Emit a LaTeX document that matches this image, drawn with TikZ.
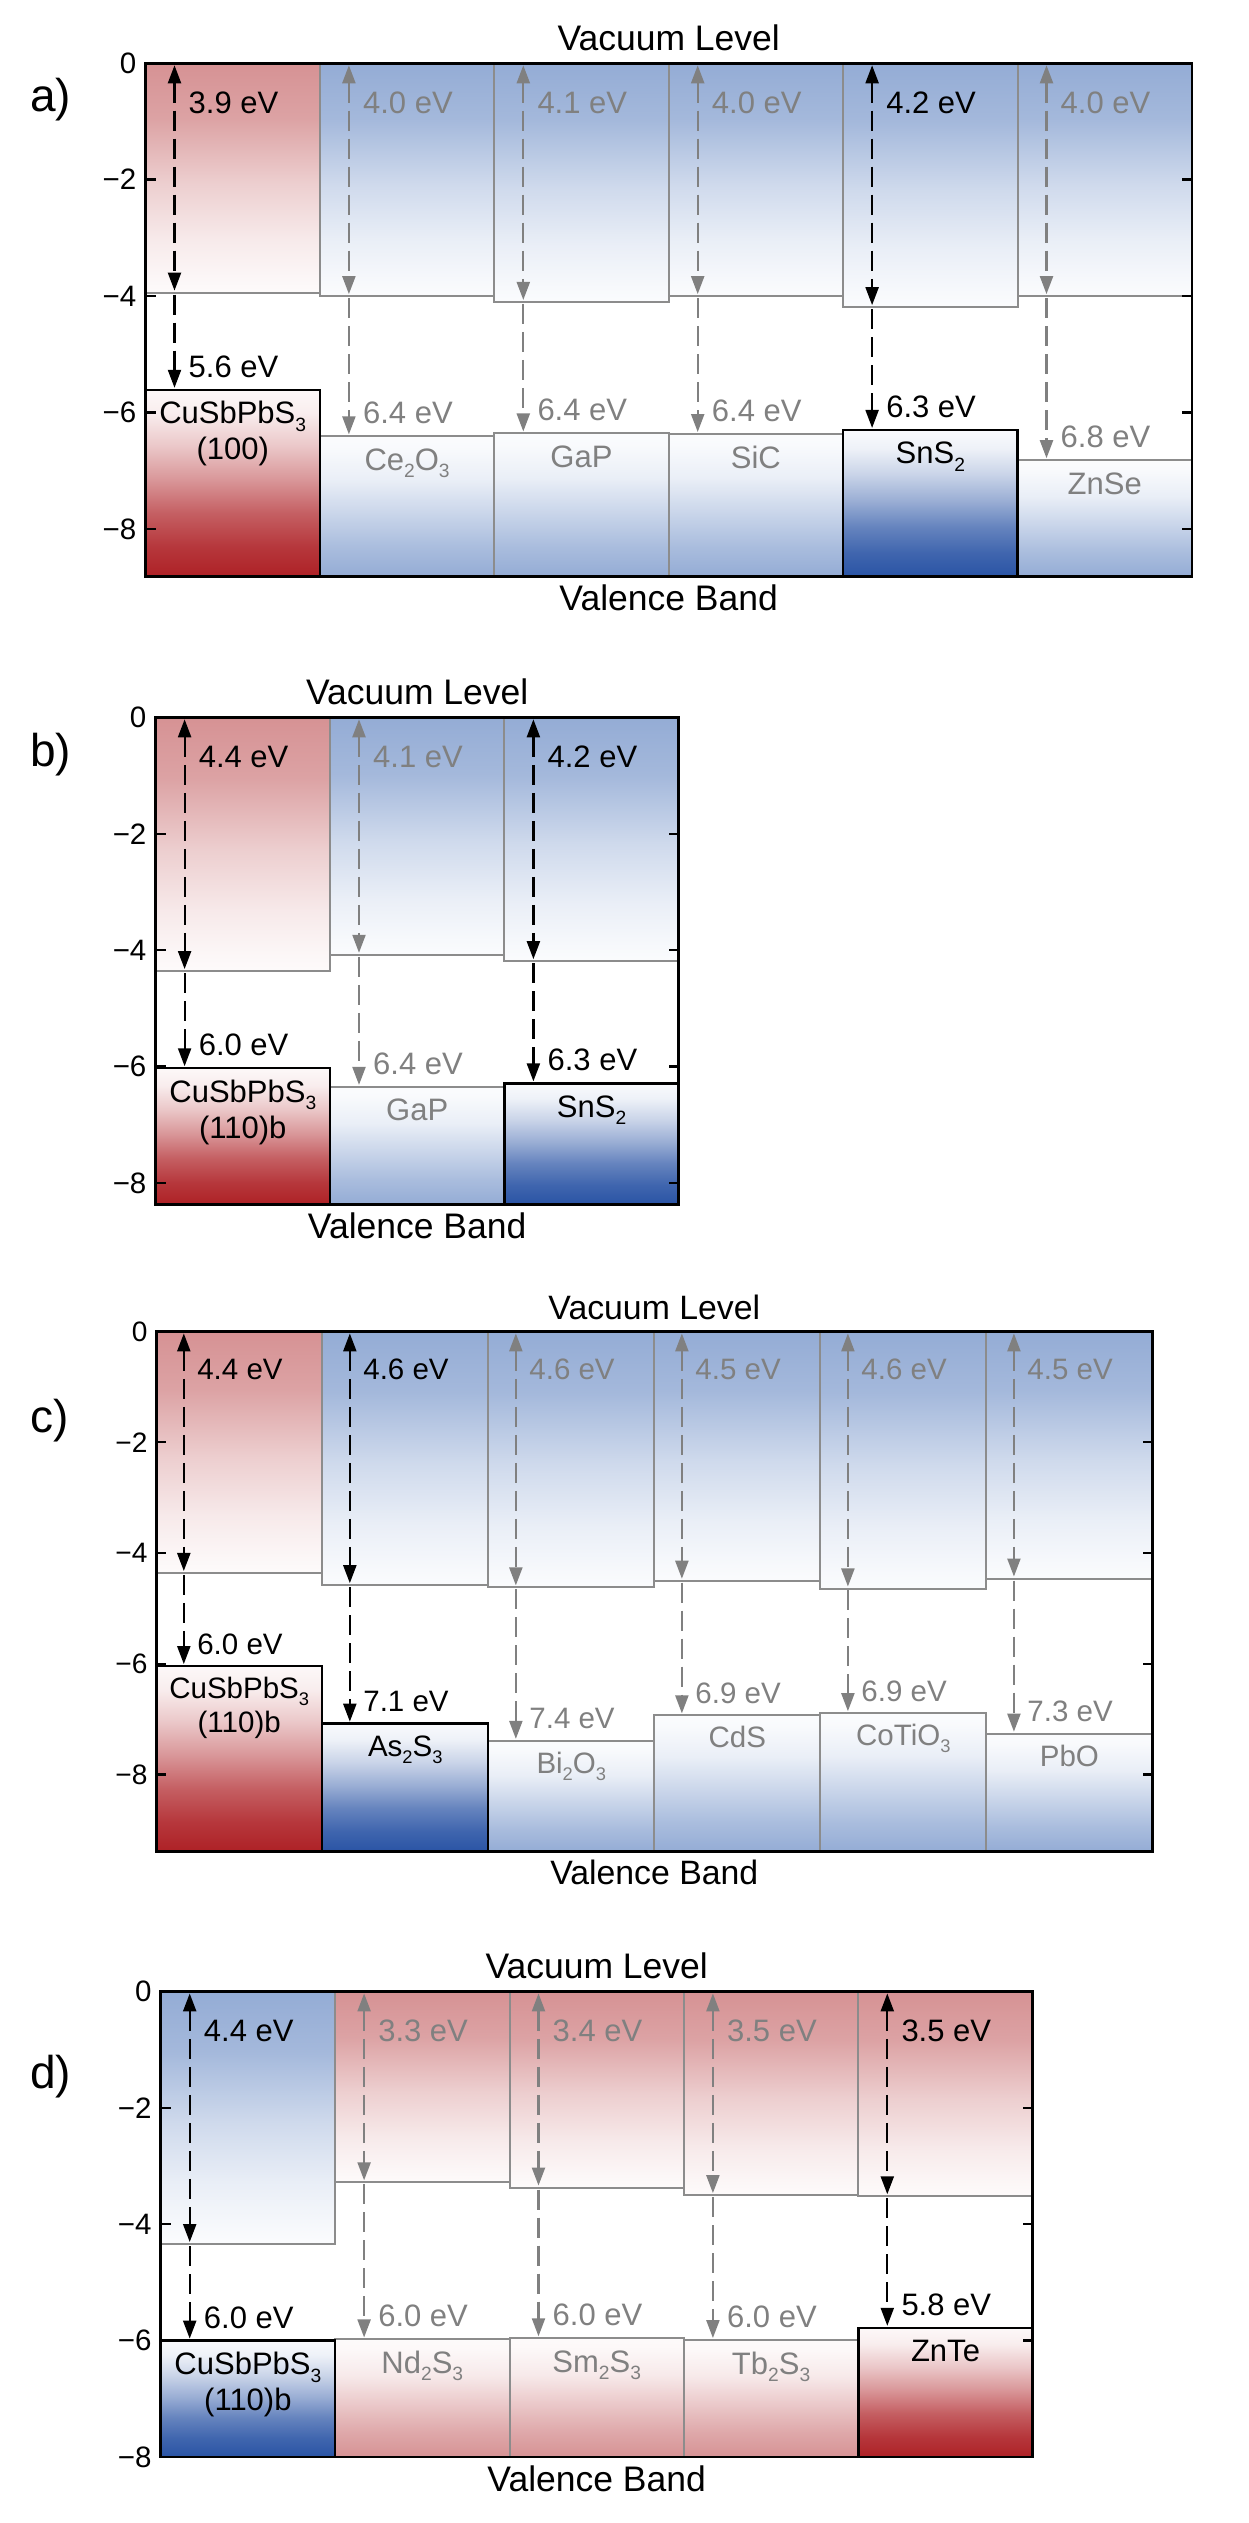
\documentclass[tikz,border=0pt]{standalone}
\usepackage{fontspec}
\setmainfont{Liberation Sans}
\usetikzlibrary{arrows.meta}
\definecolor{redL}{RGB}{214,146,148}
\definecolor{redD}{RGB}{174,33,38}
\definecolor{blueL}{RGB}{148,172,213}
\definecolor{blueD}{RGB}{42,84,165}
\definecolor{tgray}{RGB}{128,128,128}
\definecolor{bgray}{RGB}{140,140,140}

\pgfdeclareverticalshading{cbred}{100bp}{color(0bp)=(redL!4); color(25bp)=(redL!4); color(28.5bp)=(redL!8); color(37bp)=(redL!20); color(49bp)=(redL!45); color(63bp)=(redL!85); color(75bp)=(redL); color(100bp)=(redL)}
\pgfdeclareverticalshading{cbblue}{100bp}{color(0bp)=(blueL!4); color(25bp)=(blueL!4); color(28.5bp)=(blueL!8); color(37bp)=(blueL!20); color(49bp)=(blueL!45); color(63bp)=(blueL!85); color(75bp)=(blueL); color(100bp)=(blueL)}
\pgfdeclareverticalshading{vbredD}{100bp}{color(0bp)=(redD); color(25bp)=(redD); color(33bp)=(redD!90); color(42bp)=(redD!72); color(51bp)=(redD!47); color(60bp)=(redD!25); color(68.75bp)=(redD!8); color(75bp)=(redD!3); color(100bp)=(redD!3)}
\pgfdeclareverticalshading{vbblueD}{100bp}{color(0bp)=(blueD); color(25bp)=(blueD); color(33bp)=(blueD!90); color(42bp)=(blueD!72); color(51bp)=(blueD!47); color(60bp)=(blueD!25); color(68.75bp)=(blueD!8); color(75bp)=(blueD!3); color(100bp)=(blueD!3)}
\pgfdeclareverticalshading{vbblueL}{100bp}{color(0bp)=(blueL); color(25bp)=(blueL); color(35.5bp)=(blueL!80); color(47.5bp)=(blueL!50); color(59.5bp)=(blueL!20); color(71bp)=(blueL!6); color(75bp)=(blueL!4); color(100bp)=(blueL!4)}
\pgfdeclareverticalshading{vbredL}{100bp}{color(0bp)=(redL); color(25bp)=(redL); color(35.5bp)=(redL!80); color(47.5bp)=(redL!50); color(59.5bp)=(redL!20); color(71bp)=(redL!6); color(75bp)=(redL!4); color(100bp)=(redL!4)}

\newcommand\mysub[1]{\raisebox{-0.24em}{\scalebox{0.62}{#1}}}

\tikzset{
  boxline/.style={draw=bgray, line width=2pt},
  hlbox/.style={draw=black, line width=2.4pt},
  framebox/.style={draw=black, line width=2.8pt},
  tickline/.style={draw=black, line width=2.4pt},
  darr/.style={line width=2.2pt, dash pattern=on 20pt off 8pt, shorten <=2pt, shorten >=2pt},
  lab/.style={inner sep=0pt, font=\fontsize{31}{37}\selectfont},
  ticklab/.style={inner sep=0pt, font=\fontsize{29.5}{35}\selectfont},
  ttl/.style={inner sep=0pt, font=\fontsize{35.5}{42}\selectfont},
  plab/.style={inner sep=0pt, font=\fontsize{46}{54}\selectfont},
}

\newcommand\bandpanel[4]{%
  \pgfmathsetmacro\bpW{174.4}%
  \pgfmathsetmacro\bpS{58.2}%
  \pgfmathsetmacro\bpFR{#2*\bpW}%
  \pgfmathsetmacro\bpFB{#3*\bpS}%
  % boxes
  \foreach \i/\cb/\vb/\lc/\lv/\csh/\vsh/\hl/\na/\nb in {#4}{%
    \pgfmathsetmacro\xl{\i*\bpW}%
    \pgfmathsetmacro\xr{\xl+\bpW}%
    \pgfmathsetmacro\ycb{\cb*\bpS}%
    \pgfmathsetmacro\yvb{\vb*\bpS}%
    \shade[shading=\csh] (\xl,0) rectangle (\xr,\ycb);
    \draw[boxline] (\xl,0) rectangle (\xr,\ycb);
    \shade[shading=\vsh] (\xl,\yvb) rectangle (\xr,\bpFB);
    \draw[boxline] (\xl,\yvb) rectangle (\xr,\bpFB);
  }
  % highlighted borders
  \foreach \i/\cb/\vb/\lc/\lv/\csh/\vsh/\hl/\na/\nb in {#4}{%
    \pgfmathsetmacro\xl{\i*\bpW}%
    \pgfmathsetmacro\xr{\xl+\bpW}%
    \pgfmathsetmacro\yvb{\vb*\bpS}%
    \ifnum\hl=1
      \draw[hlbox] (\xl,\yvb) rectangle (\xr,\bpFB);
    \fi
  }
  % frame and ticks
  \draw[framebox] (0,0) rectangle (\bpFR,\bpFB);
  \foreach \tk in {0,2,4,6,8}{%
    \draw[tickline] (0,\tk*\bpS) -- (10,\tk*\bpS);
    \draw[tickline] (\bpFR,\tk*\bpS) -- (\bpFR-10,\tk*\bpS);
    \node (#1-k\tk) [ticklab, anchor=east] at (-9,\tk*\bpS) {\ifnum\tk=0 0\else −\tk\fi};
  }
  \node (#1-vac) [ttl, anchor=base] at (\bpFR/2,-12.5) {Vacuum Level};
  \node (#1-val) [ttl, anchor=base] at (\bpFR/2,\bpFB+34) {Valence Band};
  % arrows and labels
  \foreach \i/\cb/\vb/\lc/\lv/\csh/\vsh/\hl/\na/\nb in {#4}{%
    \pgfmathsetmacro\xl{\i*\bpW}%
    \pgfmathsetmacro\xa{\xl+29}%
    \pgfmathsetmacro\xc{\xl+\bpW/2}%
    \pgfmathsetmacro\ycb{\cb*\bpS}%
    \pgfmathsetmacro\yvb{\vb*\bpS}%
    \ifnum\hl=1 \def\tc{black}\else\def\tc{tgray}\fi
    \coordinate (#1-t\i) at (\xa,0);
    \coordinate (#1-c\i) at (\xa,\ycb);
    \coordinate (#1-v\i) at (\xa,\yvb);
    \draw[darr, draw=\tc, <->] (#1-t\i) -- (#1-c\i);
    \draw[darr, draw=\tc, ->] (#1-c\i) -- (#1-v\i);
    \node (#1-lc\i) [lab, anchor=base west, text=\tc] at (\xl+43,50) {\lc\ eV};
    \node (#1-lv\i) [lab, anchor=base west, text=\tc] at (\xl+43,\yvb-12.5) {\lv\ eV};
    \node (#1-na\i) [lab, anchor=base, text=\tc] at (\xc,\yvb+34) {\na};
    \node (#1-nb\i) [lab, anchor=base, text=\tc] at (\xc,\yvb+70) {\nb};
  }
}

\begin{document}
\begin{tikzpicture}[x=1pt,y=-1pt,>={Triangle[length=18pt,width=13pt]}]
\fill[white] (0,0) rectangle (1248,2523);
\useasboundingbox (0,0) rectangle (1248,2523);

\begin{scope}[shift={(145.5,63.3)}]
\bandpanel{pa}{6}{8.82}{0/3.94/5.61/3.9/5.6/cbred/vbredD/1/{CuSbPbS\mysub{3}}/{(100)},
1/4.00/6.41/4.0/6.4/cbblue/vbblueL/0/{Ce\mysub{2}O\mysub{3}}/{},
2/4.10/6.36/4.1/6.4/cbblue/vbblueL/0/{GaP}/{},
3/4.00/6.37/4.0/6.4/cbblue/vbblueL/0/{SiC}/{},
4/4.19/6.30/4.2/6.3/cbblue/vbblueD/1/{SnS\mysub{2}}/{},
5/4.00/6.82/4.0/6.8/cbblue/vbblueL/0/{ZnSe}/{}}
\end{scope}

\begin{scope}[shift={(155.6,717.3)}]
\bandpanel{pb}{3}{8.37}{0/4.36/6.03/4.4/6.0/cbred/vbredD/1/{CuSbPbS\mysub{3}}/{(110)b},
1/4.08/6.35/4.1/6.4/cbblue/vbblueL/0/{GaP}/{},
2/4.19/6.29/4.2/6.3/cbblue/vbblueD/1/{SnS\mysub{2}}/{}}
\end{scope}

\begin{scope}[shift={(156.2,1331.4)}, scale=0.952, transform shape]
\bandpanel{pc}{6}{9.39}{0/4.36/6.04/4.4/6.0/cbred/vbredD/1/{CuSbPbS\mysub{3}}/{(110)b},
1/4.58/7.08/4.6/7.1/cbblue/vbblueD/1/{As\mysub{2}S\mysub{3}}/{},
2/4.62/7.39/4.6/7.4/cbblue/vbblueL/0/{Bi\mysub{2}O\mysub{3}}/{},
3/4.50/6.93/4.5/6.9/cbblue/vbblueL/0/{CdS}/{},
4/4.64/6.89/4.6/6.9/cbblue/vbblueL/0/{CoTiO\mysub{3}}/{},
5/4.46/7.26/4.5/7.3/cbblue/vbblueL/0/{PbO}/{}}
\end{scope}

\begin{scope}[shift={(160.7,1991.4)}]
\bandpanel{pd}{5}{8.0}{0/4.34/6.00/4.4/6.0/cbblue/vbblueD/1/{CuSbPbS\mysub{3}}/{(110)b},
1/3.28/5.98/3.3/6.0/cbred/vbredL/0/{Nd\mysub{2}S\mysub{3}}/{},
2/3.37/5.96/3.4/6.0/cbred/vbredL/0/{Sm\mysub{2}S\mysub{3}}/{},
3/3.50/5.99/3.5/6.0/cbred/vbredL/0/{Tb\mysub{2}S\mysub{3}}/{},
4/3.52/5.78/3.5/5.8/cbred/vbredD/1/{ZnTe}/{}}
\end{scope}

\node (la) [plab, anchor=west] at (30,99.5) {a)};
\node (lb) [plab, anchor=west] at (30,755) {b)};
\node (lcc) [plab, anchor=west] at (30,1421) {c)};
\node (ld) [plab, anchor=west] at (30,2077) {d)};
\end{tikzpicture}
\end{document}
